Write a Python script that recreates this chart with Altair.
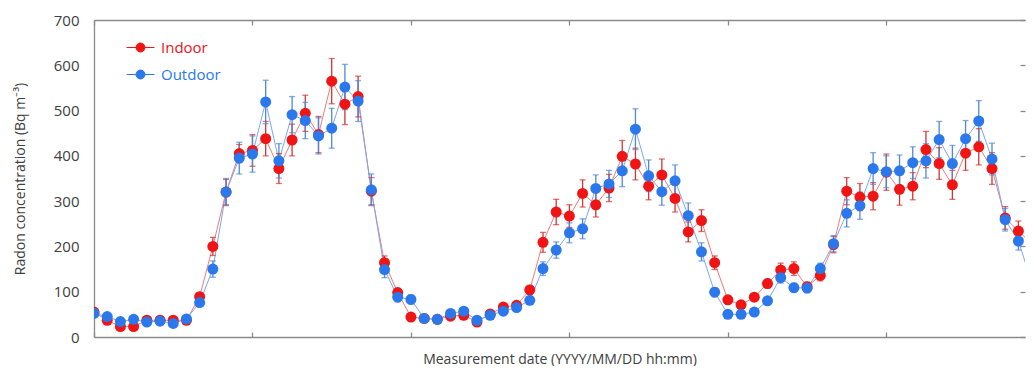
import altair as alt
import pandas as pd

# ---------------- data ----------------
series_names = ["Indoor", "Outdoor"]
sample_index = list(range(72))

indoor = [55, 37, 23, 23, 37, 37, 37, 37, 89, 200,
          320, 405, 412, 438, 372, 435, 494, 447, 565, 514,
          531, 322, 164, 98, 44, 41, 39, 46, 48, 33,
          51, 66, 70, 104, 209, 276, 267, 317, 292, 329,
          399, 382, 333, 358, 306, 232, 257, 164, 82, 71,
          88, 118, 148, 151, 111, 136, 204, 322, 309, 311,
          364, 326, 333, 414, 383, 336, 406, 420, 372, 263,
          234, 206]

outdoor = [52, 45, 34, 39, 33, 35, 30, 40, 76, 150,
           320, 395, 404, 519, 389, 491, 478, 444, 461, 552,
           521, 325, 149, 88, 83, 41, 39, 52, 57, 37,
           48, 57, 65, 81, 151, 192, 230, 239, 328, 338,
           367, 459, 356, 321, 345, 268, 188, 99, 50, 50,
           55, 80, 131, 109, 108, 151, 206, 273, 290, 372,
           365, 367, 385, 389, 436, 383, 438, 477, 393, 259,
           212, 121]

indoor_err = [5, 4, 3, 3, 4, 4, 4, 4, 8, 20,
              28, 20, 35, 38, 33, 35, 40, 40, 50, 45,
              45, 30, 15, 9, 4, 4, 4, 4, 5, 3,
              5, 6, 7, 10, 22, 28, 25, 30, 27, 30,
              35, 35, 30, 35, 30, 22, 24, 15, 8, 7,
              8, 10, 15, 15, 10, 12, 18, 30, 30, 30,
              40, 35, 30, 40, 35, 32, 38, 40, 35, 25,
              22, 20]

outdoor_err = [5, 4, 3, 4, 4, 4, 4, 4, 8, 18,
               30, 35, 40, 48, 38, 40, 40, 40, 44, 50,
               45, 35, 18, 10, 10, 4, 4, 6, 7, 4,
               5, 6, 7, 8, 15, 18, 22, 22, 30, 30,
               35, 45, 35, 30, 35, 28, 20, 10, 5, 5,
               5, 8, 12, 10, 10, 12, 18, 30, 30, 35,
               35, 35, 35, 38, 40, 40, 40, 45, 35, 25,
               20, 15]

x_tick_values = [0, 12, 24, 36, 48, 60]
y_tick_values = [0, 100, 200, 300, 400, 500, 600, 700]

# ---------------- tables ----------------
rows = []
caps = []
for name, vals, errs in [("Indoor", indoor, indoor_err), ("Outdoor", outdoor, outdoor_err)]:
    for i, v, e in zip(sample_index, vals, errs):
        rows.append({"idx": i, "series": name, "value": v, "lo": v - e, "hi": v + e})
        caps.append({"idx": i, "series": name, "cap": v - e})
        caps.append({"idx": i, "series": name, "cap": v + e})
df = pd.DataFrame(rows)
df_caps = pd.DataFrame(caps)

# ---------------- styles ----------------
FONT = "Open Sans"
TXT = "#404040"
AX = "#8a8a8a"
point_colors = ["#f01414", "#2a78ec"]
line_colors = ["#ef7b7b", "#7aa8f0"]
err_colors = ["#d23434", "#4d89d8"]

xscale = alt.Scale(domain=[0, 70.5], nice=False, zero=False)
yscale = alt.Scale(domain=[0, 700], nice=False)

# main y axis: labels + title + domain line
y_axis_main = alt.Axis(values=y_tick_values, grid=False, ticks=False, tickSize=0,
                       labelPadding=15, labelFont=FONT, labelFontSize=15, labelColor=TXT,
                       domainColor=AX, domainWidth=1.3,
                       title="Radon concentration (Bq m⁻³)", titleFont=FONT,
                       titleFontSize=14, titleFontWeight="normal", titleColor=TXT,
                       titlePadding=26)
# inward tick marks on the y axis
y_axis_ticks = alt.Axis(values=y_tick_values, grid=False, ticks=True, tickSize=5, offset=-5,
                        domain=False, labels=False, tickColor=AX, tickWidth=1.3, title=None)

base = alt.Chart(df)

lines = base.mark_line(strokeWidth=1, clip=True).encode(
    x=alt.X("idx:Q", scale=xscale,
            axis=alt.Axis(orient="bottom", domain=True, ticks=False, labels=False, grid=False,
                          domainColor=AX, domainWidth=1.3,
                          title="Measurement date (YYYY/MM/DD hh:mm)", titleFont=FONT,
                          titleFontSize=14, titleFontWeight="normal", titleColor=TXT,
                          titlePadding=15)),
    y=alt.Y("value:Q", scale=yscale, axis=y_axis_main),
    color=alt.Color("series:N", scale=alt.Scale(domain=series_names, range=line_colors), legend=None),
    detail="series:N",
)

err_rules = base.mark_rule(strokeWidth=1.3, clip=True).encode(
    x=alt.X("idx:Q", scale=xscale,
            axis=alt.Axis(orient="top", domain=True, ticks=False, labels=False, grid=False,
                          domainColor=AX, domainWidth=1.3, title=None)),
    y=alt.Y("lo:Q", scale=yscale, axis=y_axis_ticks),
    y2="hi:Q",
    color=alt.Color("series:N", scale=alt.Scale(domain=series_names, range=err_colors), legend=None),
)

err_caps = alt.Chart(df_caps).mark_tick(orient="horizontal", size=6, thickness=1.3, clip=True).encode(
    x=alt.X("idx:Q", scale=xscale,
            axis=alt.Axis(orient="bottom", domain=False, ticks=True, tickSize=5, offset=-5,
                          values=x_tick_values, labels=False, grid=False,
                          tickColor=AX, tickWidth=1.3, title=None)),
    y=alt.Y("cap:Q", scale=yscale, axis=None),
    color=alt.Color("series:N", scale=alt.Scale(domain=series_names, range=err_colors), legend=None),
)

legend_symbol = "M-3.1,0H-1M1,0H3.1M-1,0A1,1 0 1,0 1,0A1,1 0 1,0 -1,0Z"

points = base.mark_circle(size=121, opacity=1, clip=True).encode(
    x=alt.X("idx:Q", scale=xscale,
            axis=alt.Axis(orient="top", domain=False, ticks=True, tickSize=5, offset=-5,
                          values=x_tick_values, labels=False, grid=False,
                          tickColor=AX, tickWidth=1.3, title=None)),
    y=alt.Y("value:Q", scale=yscale, axis=None),
    color=alt.Color("series:N", scale=alt.Scale(domain=series_names, range=point_colors),
                    legend=alt.Legend(title=None, orient="none", legendX=39, legendY=20,
                                      symbolType=legend_symbol, symbolSize=81,
                                      symbolStrokeWidth=1, symbolOpacity=1,
                                      symbolStrokeColor={"expr": "datum.value == 'Indoor' ? '#f01414' : '#2a78ec'"},
                                      labelFont=FONT, labelFontSize=15,
                                      labelColor={"expr": "datum.value == 'Indoor' ? '#e8141e' : '#2a78ec'"},
                                      labelOffset=13, rowPadding=11, padding=0)),
)

chart = alt.layer(lines, err_rules, err_caps, points).resolve_scale(
    color="independent"
).resolve_axis(
    x="independent", y="independent"
).properties(
    width=1018, height=358,
    autosize=alt.AutoSizeParams(type="fit", contains="padding"),
    padding={"left": 5, "top": 5, "right": 0, "bottom": 0},
    background="white",
).configure_view(stroke=None)

chart.save("out.html", embed_options={"renderer": "svg", "actions": False})
